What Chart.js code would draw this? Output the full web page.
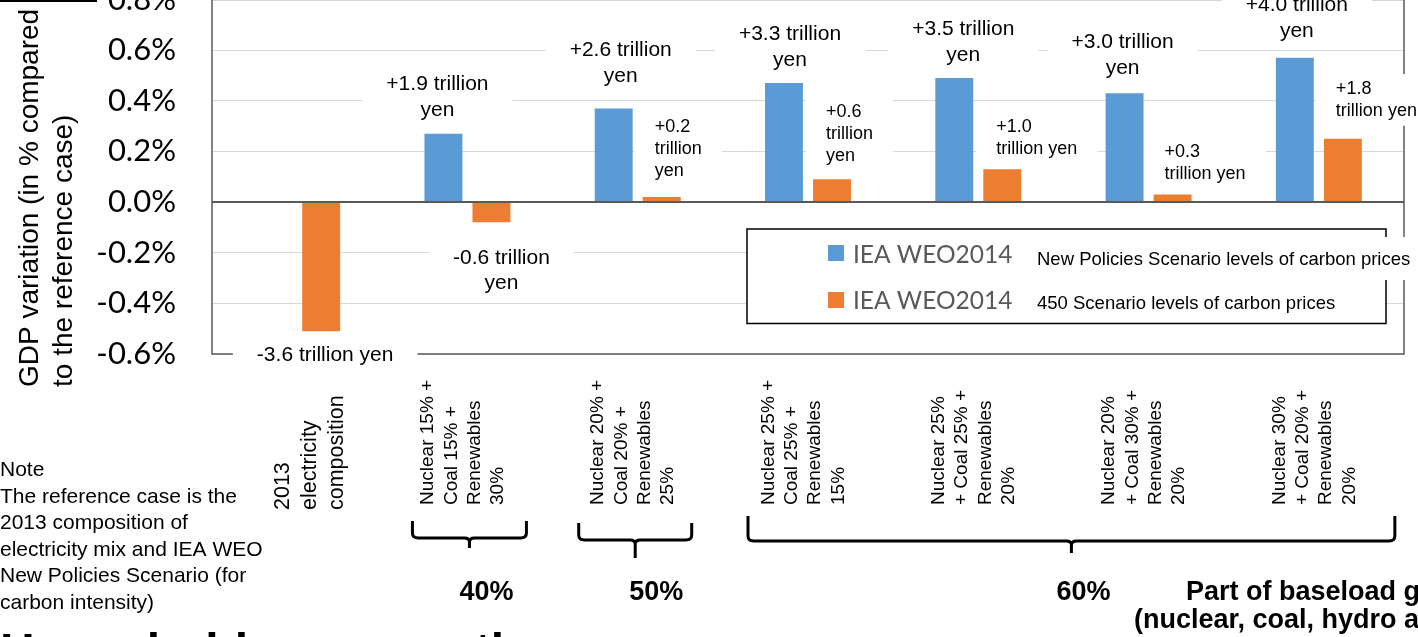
<!DOCTYPE html>
<html>
<head>
<meta charset="utf-8">
<script src="https://cdn.jsdelivr.net/npm/chart.js@4.4.1/dist/chart.umd.min.js"></script>
<style>
  html, body { margin: 0; padding: 0; background: #fff; overflow: hidden; }
  #wrap { position: absolute; left: 0; top: -52px; width: 1418px; height: 689px; }
</style>
</head>
<body>
<div id="wrap"><canvas id="chart" width="1418" height="689"></canvas></div>
<script>
// --- Data ---
const categories = [
    ['2013', 'electricity', 'composition'],
    ['Nuclear 15% +', 'Coal 15% +', 'Renewables', '30%'],
    ['Nuclear 20% +', 'Coal 20% +', 'Renewables', '25%'],
    ['Nuclear 25% +', 'Coal 25% +', 'Renewables', '15%'],
    ['Nuclear 25%', '+ Coal 25% +', 'Renewables', '20%'],
    ['Nuclear 20%', '+ Coal 30% +', 'Renewables', '20%'],
    ['Nuclear 30%', '+ Coal 20% +', 'Renewables', '20%']
];
const newPolicies = [null, 0.27, 0.37, 0.47, 0.49, 0.43, 0.57];
const scenario450 = [-0.51, -0.08, 0.02, 0.09, 0.13, 0.03, 0.25];
const newPoliciesLabels = [
    null,
    ['+1.9 trillion', 'yen'], ['+2.6 trillion', 'yen'], ['+3.3 trillion', 'yen'],
    ['+3.5 trillion', 'yen'], ['+3.0 trillion', 'yen'], ['+4.0 trillion', 'yen']
];
const scenario450Labels = [
    ['-3.6 trillion yen'], ['-0.6 trillion', 'yen'], ['+0.2', 'trillion', 'yen'],
    ['+0.6', 'trillion', 'yen'], ['+1.0', 'trillion yen'], ['+0.3', 'trillion yen'],
    ['+1.8', 'trillion yen']
];
const yMin = -0.6;
const yMax = 0.8;
const yStep = 0.2;
const seriesSource = 'IEA WEO2014';
const seriesNames = ['New Policies Scenario levels of carbon prices', '450 Scenario levels of carbon prices'];
const yTitle = ['GDP variation (in % compared', 'to the reference case)'];
const baseloadGroups = [
    { label: '40%', from: 1, to: 1 },
    { label: '50%', from: 2, to: 2 },
    { label: '60%', from: 3, to: 6 }
];
const baseloadTitle = ['Part of baseload generation', '(nuclear, coal, hydro and geothermal)'];
const noteLines = [
    'Note',
    'The reference case is the',
    '2013 composition of',
    'electricity mix and IEA WEO',
    'New Policies Scenario (for',
    'carbon intensity)'
];
const nextHeading = 'Household consumption';

// --- Layout (pixel offsets, not data) ---
const OY = 52; // canvas sits 52px above the page top
const ARIAL = '"Liberation Sans", Arial, sans-serif';
const CALIBRI = 'Lato, "Open Sans", sans-serif';
const BLUE = '#5B9BD5';
const ORANGE = '#ED7D31';
// label anchor offsets relative to the bar end [dx, dy of first baseline]
const npLabelPos = [null, [-6, -44], [7, -52], [6, -43], [9, -43], [-2, -45], [2, -47]];
const s450LabelPos = [[4, 30], [10, 42], [-7, -65], [-6, -62], [-6, -37], [-8, -37], [-7, -45]];
const braceLayout = [
    { l: -55, r: 59, top: 521, mid: 538, tip: 548, tx: 17 },
    { l: -59, r: 54, top: 523, mid: 540, tip: 558, tx: 21 },
    { l: -60, r: 76, top: 516, mid: 541, tip: 553, tx: 12 }
];

function textBox(ctx, lines, x, y0, opts) {
    const { size, lh, align, padX, padY } = opts;
    ctx.font = `${size}px ${ARIAL}`;
    const w = Math.max(...lines.map(l => ctx.measureText(l).width));
    const left = align === 'center' ? x - w / 2 : x;
    const top = y0 - size * 0.76 - padY;
    const bottom = y0 + (lines.length - 1) * lh + size * 0.22 + padY;
    return { left: left - padX, top, width: w + 2 * padX, height: bottom - top };
}

function drawLines(ctx, lines, x, y0, opts) {
    ctx.font = `${opts.size}px ${ARIAL}`;
    ctx.fillStyle = '#000';
    ctx.textAlign = opts.align;
    ctx.textBaseline = 'alphabetic';
    lines.forEach((l, i) => ctx.fillText(l, x, y0 + i * opts.lh));
}

// border of the plot area, drawn below the bars
const plotBorder = {
    id: 'plotBorder',
    beforeDatasetsDraw(chart) {
        const { ctx, chartArea: a } = chart;
        ctx.save();
        ctx.strokeStyle = '#595959';
        ctx.lineWidth = 1.5;
        ctx.strokeRect(a.left, a.top, a.right - a.left, a.bottom - a.top);
        ctx.restore();
    }
};

// data labels with white text boxes
const dataLabels = {
    id: 'dataLabels',
    afterDatasetsDraw(chart) {
        const ctx = chart.ctx;
        const items = [];
        const m0 = chart.getDatasetMeta(0).data;
        const m1 = chart.getDatasetMeta(1).data;
        newPoliciesLabels.forEach((lines, i) => {
            if (!lines) return;
            const bar = m0[i];
            items.push({ lines, x: bar.x + npLabelPos[i][0], y: bar.y + npLabelPos[i][1],
                opts: { size: 21, lh: 26, align: 'center', padX: 24, padY: 6 } });
        });
        scenario450Labels.forEach((lines, i) => {
            const bar = m1[i];
            const big = i < 2;
            items.push({ lines, x: bar.x + s450LabelPos[i][0], y: bar.y + s450LabelPos[i][1],
                opts: big ? { size: 21, lh: 25, align: 'center', padX: 24, padY: 6 }
                          : { size: 18, lh: 22, align: 'left', padX: 20, padY: 6 } });
        });
        ctx.save();
        items.forEach(it => {
            const b = textBox(ctx, it.lines, it.x, it.y, it.opts);
            ctx.fillStyle = '#fff';
            ctx.fillRect(b.left, b.top, b.width, b.height);
        });
        items.forEach(it => drawLines(ctx, it.lines, it.x, it.y, it.opts));
        ctx.restore();
    }
};

// everything around the plot: legend, category labels, braces, notes
const decorations = {
    id: 'decorations',
    afterDraw(chart) {
        const ctx = chart.ctx;
        const xs = chart.scales.x;
        ctx.save();
        ctx.translate(0, OY);

        // legend
        ctx.fillStyle = '#fff';
        ctx.fillRect(747, 229, 639, 94.5);
        ctx.strokeStyle = '#000';
        ctx.lineWidth = 1.5;
        ctx.strokeRect(747, 229, 639, 94.5);
        ctx.fillStyle = '#fff';
        ctx.fillRect(1030, 237, 400, 43);
        [[BLUE, 245, 263.3, 265], [ORANGE, 292, 309.3, 309]].forEach(([col, sqY, srcY, nameY], i) => {
            ctx.fillStyle = col;
            ctx.fillRect(828, sqY, 16, 16);
            ctx.fillStyle = '#595959';
            ctx.font = `24.5px ${CALIBRI}`;
            ctx.textAlign = 'left';
            ctx.textBaseline = 'alphabetic';
            ctx.fillText(seriesSource, 853, srcY);
            ctx.fillStyle = '#000';
            ctx.font = `18.5px ${ARIAL}`;
            ctx.fillText(seriesNames[i], 1037, nameY);
        });

        // category labels (rotated)
        ctx.fillStyle = '#000';
        categories.forEach((lines, i) => {
            const first = i === 0;
            const size = first ? 21.5 : 19;
            const lh = first ? 27 : 23.3;
            const cx = xs.getPixelForValue(i) + (first ? 13 : -4.5);
            const bottom = first ? 510 : 505;
            ctx.font = `${size}px ${ARIAL}`;
            ctx.textAlign = 'left';
            ctx.textBaseline = 'middle';
            lines.forEach((line, j) => {
                ctx.save();
                ctx.translate(cx + (j - (lines.length - 1) / 2) * lh, bottom);
                ctx.rotate(-Math.PI / 2);
                ctx.fillText(line, 0, 0);
                ctx.restore();
            });
        });

        // braces and baseload shares
        ctx.strokeStyle = '#000';
        ctx.lineWidth = 3;
        ctx.lineJoin = 'round';
        baseloadGroups.forEach((g, i) => {
            const b = braceLayout[i];
            const L = xs.getPixelForValue(g.from) + b.l;
            const R = xs.getPixelForValue(g.to) + b.r;
            const C = (L + R) / 2;
            ctx.beginPath();
            ctx.moveTo(L, b.top);
            ctx.lineTo(L, b.mid - 5);
            ctx.quadraticCurveTo(L, b.mid, L + 6, b.mid);
            ctx.lineTo(C - 5, b.mid);
            ctx.quadraticCurveTo(C, b.mid, C, b.mid + 4);
            ctx.lineTo(C, b.tip);
            ctx.moveTo(C, b.mid + 4);
            ctx.quadraticCurveTo(C, b.mid, C + 5, b.mid);
            ctx.lineTo(R - 6, b.mid);
            ctx.quadraticCurveTo(R, b.mid, R, b.mid - 5);
            ctx.lineTo(R, b.top);
            ctx.stroke();
            ctx.font = `bold 27px ${ARIAL}`;
            ctx.textAlign = 'center';
            ctx.textBaseline = 'alphabetic';
            ctx.fillStyle = '#000';
            ctx.fillText(g.label, C + b.tx, 600);
        });
        ctx.font = `bold 27px ${ARIAL}`;
        ctx.textAlign = 'left';
        ctx.fillText(baseloadTitle[0], 1186, 600);
        ctx.fillText(baseloadTitle[1], 1134, 628);

        // note
        ctx.font = `21px ${ARIAL}`;
        noteLines.forEach((l, i) => ctx.fillText(l, 0, 476 + i * 26.6));

        // y axis title (rotated, two lines)
        ctx.font = `28px ${ARIAL}`;
        yTitle.forEach((l, i) => {
            ctx.save();
            ctx.translate(38 + i * 34, 387);
            ctx.rotate(-Math.PI / 2);
            ctx.textBaseline = 'alphabetic';
            ctx.fillText(l, 0, 0);
            ctx.restore();
        });

        // slide leftovers: heading below and rule above
        ctx.font = `bold 48px ${ARIAL}`;
        ctx.fillText(nextHeading, 0, 667);
        ctx.fillRect(0, 0, 97, 2);
        ctx.restore();
    }
};

const chart = new Chart(document.getElementById('chart'), {
    type: 'bar',
    data: {
        labels: categories,
        datasets: [
            { label: seriesSource + ' ' + seriesNames[0], data: newPolicies, backgroundColor: BLUE,
              barPercentage: 0.79, categoryPercentage: 0.564 },
            { label: seriesSource + ' ' + seriesNames[1], data: scenario450, backgroundColor: ORANGE,
              barPercentage: 0.79, categoryPercentage: 0.564 }
        ]
    },
    options: {
        responsive: false,
        devicePixelRatio: 1,
        animation: false,
        layout: { padding: { top: 19, right: 14, bottom: 283, left: 0 } },
        plugins: { legend: { display: false }, tooltip: { enabled: false } },
        scales: {
            x: { display: false },
            y: {
                min: yMin,
                max: yMax,
                afterFit(scale) { scale.width = 212; },
                border: { display: false },
                grid: {
                    drawTicks: false,
                    color: c => (c.tick && c.tick.value === 0 ? '#595959' : '#d9d9d9'),
                    lineWidth: c => (c.tick && c.tick.value === 0 ? 2 : 1)
                },
                ticks: {
                    stepSize: yStep,
                    padding: 36,
                    color: '#000',
                    font: { family: CALIBRI, size: 31, lineHeight: 1 },
                    callback: v => v.toFixed(1) + '%'
                }
            }
        }
    },
    plugins: [plotBorder, dataLabels, decorations]
});
</script>
</body>
</html>
